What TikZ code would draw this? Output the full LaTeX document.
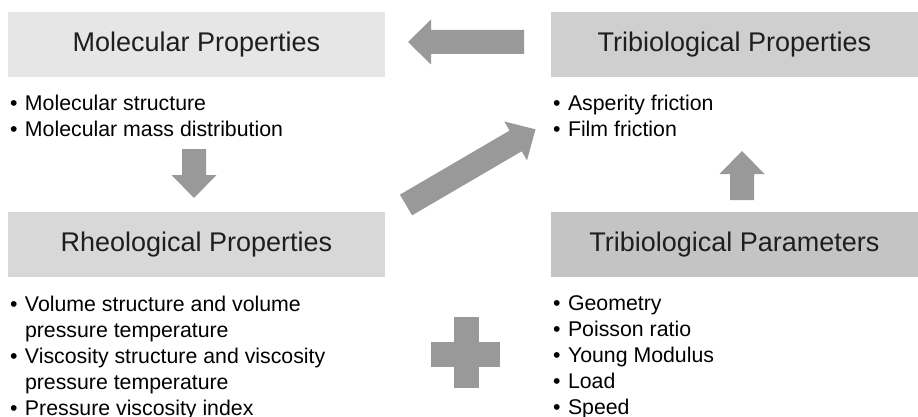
\documentclass[tikz,border=0pt]{standalone}
\usepackage{fontspec}
\setmainfont{Liberation Sans}
\usetikzlibrary{positioning,calc}
\definecolor{molfill}{HTML}{E6E6E6}
\definecolor{tpropfill}{HTML}{CFCFCF}
\definecolor{rheofill}{HTML}{D8D8D8}
\definecolor{tparfill}{HTML}{C4C4C4}
\definecolor{arrowgray}{HTML}{999999}
\definecolor{titlecolor}{HTML}{1E1E1E}
\tikzset{
  titlebox/.style={minimum height=65pt, inner sep=0pt, text=titlecolor, font=\fontsize{27}{31}\selectfont},
  itemlist/.style={inner sep=0pt, align=left, font=\fontsize{21.3}{26}\selectfont},
}
\newcommand{\bul}{\makebox[15pt][l]{•}}
\newcommand{\cont}{\hspace*{15pt}}
\newcommand{\blockarrow}[3]{% tail, angle, length
  \begin{scope}[shift={#1}, rotate=#2]
    \fill[arrowgray] (0,-12) -- ({#3-23},-12) -- ({#3-23},-22.5) -- (#3,0)
      -- ({#3-23},22.5) -- ({#3-23},12) -- (0,12) -- cycle;
  \end{scope}}

\begin{document}
\begin{tikzpicture}[x=1pt, y=1pt]
  \useasboundingbox (0,0) rectangle (918,416);
  % Title boxes
  \node[titlebox, fill=molfill, minimum width=377pt] (mol) at (196.5,371.5) {Molecular Properties};
  \node[titlebox, fill=tpropfill, minimum width=367pt] (tprop) at (734.5,371.5) {Tribiological Properties};
  \node[titlebox, fill=rheofill, minimum width=377pt] (rheo) at (196.5,171.5) {Rheological Properties};
  \node[titlebox, fill=tparfill, minimum width=367pt] (tpar) at (734.5,171.5) {Tribiological Parameters};
  % Item lists
  \node[itemlist, below right=15pt and 2pt of mol.south west] (molitems)
    {\strut\bul Molecular structure\\ \bul Molecular mass distribution};
  \node[itemlist, below right=15pt and 2pt of tprop.south west] (tpropitems)
    {\strut\bul Asperity friction\\ \bul Film friction};
  \node[itemlist, below right=15.5pt and 2pt of rheo.south west] (rheoitems)
    {\strut\bul Volume structure and volume\\ \cont pressure temperature\\
     \bul Viscosity structure and viscosity\\ \cont pressure temperature\\
     \bul Pressure viscosity index};
  \node[itemlist, below right=15pt and 2pt of tpar.south west] (taritems)
    {\strut\bul Geometry\\ \bul Poisson ratio\\ \bul Young Modulus\\ \bul Load\\ \bul Speed};
  % Block arrows
  \blockarrow{(524,374)}{180}{116}
  \blockarrow{(194,267)}{-90}{49}
  \blockarrow{(406,211)}{30.3}{150}
  \blockarrow{(742,216)}{90}{49}
  % Plus sign
  \fill[arrowgray] (454,28) rectangle (479,99);
  \fill[arrowgray] (431,49) rectangle (500,74);
\end{tikzpicture}
\end{document}
